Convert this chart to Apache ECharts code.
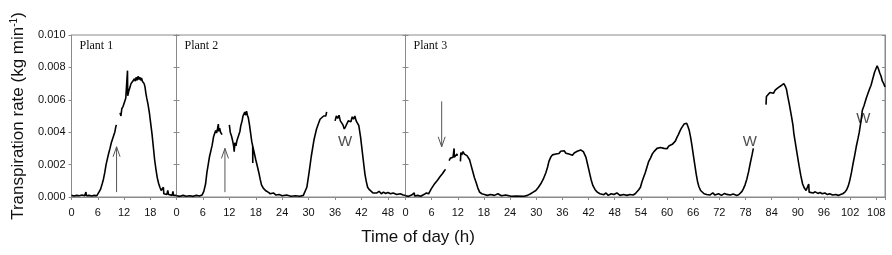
<!DOCTYPE html>
<html>
<head>
<meta charset="utf-8">
<script src="https://cdn.jsdelivr.net/npm/echarts@6/dist/echarts.min.js"></script>
<style>
  body { margin: 0; background: #fff; }
  #main { width: 892px; height: 255px; }
</style>
</head>
<body>
<div id="main"></div>
<script>
// hours of day vs transpiration rate (kg/min), null = gap in record
const plant1 = [
  [0, 0.00010], [0.6, 0.00006], [1.2, 0.00010], [1.8, 0.00008], [2.4, 0.00012], [3.0, 0.00008],
  [3.3, 0.00030], [3.4, 0.00008], [4.0, 0.00010], [4.6, 0.00006], [5.2, 0.00010], [5.8, 0.00008],
  [6.2, 0.00020], [6.6, 0.00045], [7.0, 0.00080], [7.3, 0.00110], [7.6, 0.00150], [7.9, 0.00200],
  [8.2, 0.00235], [8.5, 0.00270], [8.8, 0.00300], [9.1, 0.00335], [9.4, 0.00360], [9.7, 0.00385],
  [9.9, 0.00400], [10.1, 0.00430], [10.25, 0.00445], [10.7, null],
  [11.1, 0.00520], [11.3, 0.00500], [11.5, 0.00545], [11.8, 0.00560], [12.1, 0.00585], [12.4, 0.00610],
  [12.6, 0.00600], [12.8, 0.00780], [12.85, 0.00625], [13.1, 0.00655], [13.4, 0.00680], [13.6, 0.00700],
  [13.8, 0.00690], [14.0, 0.00715], [14.2, 0.00705], [14.4, 0.00730], [14.6, 0.00715], [14.8, 0.00740],
  [15.0, 0.00720], [15.2, 0.00745], [15.4, 0.00725], [15.6, 0.00740], [15.8, 0.00720], [16.0, 0.00735],
  [16.2, 0.00715], [16.4, 0.00725], [16.6, 0.00700], [16.8, 0.00680], [17.0, 0.00640], [17.2, 0.00610],
  [17.5, 0.00570], [17.8, 0.00520], [18.1, 0.00455], [18.4, 0.00390], [18.7, 0.00310], [19.0, 0.00230],
  [19.3, 0.00170], [19.6, 0.00120], [19.9, 0.00085], [20.2, 0.00060], [20.5, 0.00040], [20.8, 0.00030],
  [21.0, 0.00060], [21.1, 0.00020], [21.5, 0.00030], [21.8, 0.00015], [22.0, 0.00040], [22.2, 0.00015],
  [22.6, 0.00025], [23.0, 0.00010], [23.2, 0.00035], [23.3, 0.00010], [23.7, 0.00015], [24.0, 0.00010]
];

const plant2 = [
  [0, 0.00008], [0.8, 0.00004], [1.5, 0.00010], [2.2, 0.00005], [3.0, 0.00008], [3.8, 0.00004],
  [4.5, 0.00010], [5.2, 0.00006], [5.8, 0.00012], [6.2, 0.00035], [6.6, 0.00080], [6.9, 0.00150],
  [7.2, 0.00200], [7.5, 0.00250], [7.8, 0.00285], [8.1, 0.00320], [8.4, 0.00370], [8.7, 0.00395],
  [8.9, 0.00410], [9.1, 0.00395], [9.3, 0.00420], [9.5, 0.00450], [9.6, 0.00405], [9.8, 0.00425],
  [10.0, 0.00400], [10.2, 0.00410], [10.35, 0.00385], [11.0, null],
  [12.0, 0.00445], [12.2, 0.00400], [12.5, 0.00375], [12.8, 0.00340], [13.0, 0.00310], [13.1, 0.00280],
  [13.25, 0.00335], [13.5, 0.00315], [13.7, 0.00345], [13.9, 0.00335], [14.1, 0.00380], [14.4, 0.00405],
  [14.6, 0.00440], [14.9, 0.00470], [15.1, 0.00500], [15.3, 0.00490], [15.5, 0.00525], [15.7, 0.00505],
  [15.9, 0.00530], [16.1, 0.00505], [16.3, 0.00490], [16.6, 0.00440], [16.9, 0.00380], [17.1, 0.00340],
  [17.3, 0.00315], [17.32, 0.00210], [17.34, 0.00310], [17.6, 0.00280], [18.0, 0.00230], [18.4, 0.00185],
  [18.7, 0.00150], [19.0, 0.00110], [19.3, 0.00075], [19.7, 0.00055], [20.2, 0.00040], [20.8, 0.00030],
  [21.3, 0.00020], [22.0, 0.00025], [22.6, 0.00012], [23.3, 0.00015], [24.0, 0.00008], [25.0, 0.00012],
  [26.0, 0.00005], [27.0, 0.00008], [28.0, 0.00005], [28.8, 0.00010], [29.2, 0.00020], [29.6, 0.00060],
  [30.1, 0.00150], [30.6, 0.00250], [31.2, 0.00350], [31.8, 0.00420], [32.2, 0.00450], [32.6, 0.00480],
  [33.0, 0.00490], [33.4, 0.00500], [33.7, 0.00510], [33.9, 0.00500], [34.1, 0.00525], [35.0, null],
  [36.0, 0.00470], [36.3, 0.00500], [36.6, 0.00485], [36.9, 0.00505], [37.2, 0.00470], [37.5, 0.00460],
  [37.8, 0.00445], [38.1, 0.00420], [38.4, 0.00435], [38.7, 0.00445], [39.0, 0.00470], [39.3, 0.00480],
  [39.6, 0.00465], [39.9, 0.00495], [40.2, 0.00480], [40.5, 0.00500], [40.8, 0.00470], [41.1, 0.00465],
  [41.4, 0.00440], [41.8, 0.00370], [42.1, 0.00300], [42.4, 0.00230], [42.8, 0.00140], [43.1, 0.00095],
  [43.4, 0.00060], [43.8, 0.00045], [44.2, 0.00040], [44.6, 0.00025], [45.0, 0.00035], [45.5, 0.00025],
  [46.0, 0.00035], [46.5, 0.00020], [47.0, 0.00030], [47.5, 0.00022], [48.0, 0.00028], [48.6, 0.00020],
  [49.2, 0.00025], [50.0, 0.00015], [50.8, 0.00020], [51.5, 0.00012], [52.0, 0.00010]
];

const plant3 = [
  [0, 0.00008], [0.7, 0.00004], [1.4, 0.00012], [2.0, 0.00025], [2.1, 0.00006], [2.8, 0.00010],
  [3.5, 0.00005], [4.2, 0.00015], [4.8, 0.00025], [5.3, 0.00020], [5.6, 0.00035], [5.9, 0.00050],
  [6.3, 0.00060], [6.5, 0.00075], [6.7, 0.00080], [7.1, 0.00095], [7.3, 0.00090], [7.5, 0.00110],
  [7.9, 0.00125], [8.2, 0.00130], [8.5, 0.00145], [8.8, 0.00150], [9.0, 0.00165], [9.2, 0.00170], [9.6, null],
  [10.0, 0.00225], [10.3, 0.00240], [10.6, 0.00230], [10.9, 0.00245], [11.1, 0.00250], [11.15, 0.00300],
  [11.2, 0.00245], [11.5, 0.00255], [11.8, 0.00265], [11.9, 0.00255], [12.2, null],
  [12.6, 0.00220], [12.7, 0.00275], [12.9, 0.00260], [13.2, 0.00280], [13.5, 0.00265], [13.8, 0.00270],
  [14.1, 0.00255], [14.4, 0.00250], [14.7, 0.00230], [15.0, 0.00200], [15.4, 0.00160], [15.8, 0.00120],
  [16.2, 0.00090], [16.6, 0.00055], [17.0, 0.00030], [17.5, 0.00020], [18.1, 0.00016], [18.8, 0.00010],
  [19.5, 0.00015], [20.4, 0.00010], [21.2, 0.00020], [22.0, 0.00008], [23.0, 0.00012], [24.2, 0.00005],
  [25.5, 0.00006], [27.2, 0.00005], [28.0, 0.00010], [28.7, 0.00020], [29.3, 0.00030], [29.9, 0.00040],
  [30.5, 0.00060], [31.0, 0.00080], [31.6, 0.00110], [32.2, 0.00150], [32.6, 0.00185], [32.9, 0.00220],
  [33.3, 0.00245], [33.7, 0.00260], [34.1, 0.00270], [34.5, 0.00265], [34.8, 0.00275], [35.2, 0.00268],
  [35.6, 0.00282], [36.0, 0.00278], [36.4, 0.00285], [36.8, 0.00270], [37.1, 0.00275], [37.5, 0.00265],
  [37.9, 0.00270], [38.3, 0.00258], [38.7, 0.00272], [39.0, 0.00275], [39.4, 0.00282], [39.8, 0.00278],
  [40.2, 0.00290], [40.5, 0.00292], [40.8, 0.00280], [41.1, 0.00270], [41.4, 0.00245], [41.7, 0.00210],
  [42.0, 0.00175], [42.3, 0.00140], [42.6, 0.00105], [43.0, 0.00070], [43.5, 0.00045], [44.0, 0.00030],
  [44.6, 0.00020], [45.5, 0.00014], [46.0, 0.00025], [46.5, 0.00010], [47.2, 0.00020], [47.8, 0.00015],
  [48.5, 0.00025], [49.2, 0.00010], [50.0, 0.00015], [50.8, 0.00010], [51.5, 0.00015], [52.2, 0.00012],
  [52.7, 0.00020], [53.1, 0.00030], [53.5, 0.00045], [53.9, 0.00060], [54.2, 0.00090], [54.6, 0.00120],
  [55.0, 0.00150], [55.4, 0.00185], [55.8, 0.00220], [56.2, 0.00240], [56.6, 0.00265], [57.0, 0.00280],
  [57.3, 0.00292], [57.7, 0.00300], [58.1, 0.00310], [58.5, 0.00305], [58.9, 0.00315], [59.3, 0.00300],
  [59.6, 0.00305], [60.0, 0.00298], [60.4, 0.00315], [60.8, 0.00310], [61.2, 0.00325], [61.5, 0.00330],
  [61.9, 0.00345], [62.3, 0.00370], [62.6, 0.00385], [63.0, 0.00410], [63.3, 0.00425], [63.6, 0.00435],
  [63.9, 0.00450], [64.2, 0.00445], [64.5, 0.00455], [64.8, 0.00435], [65.1, 0.00410], [65.4, 0.00370],
  [65.7, 0.00320], [66.0, 0.00265], [66.3, 0.00210], [66.7, 0.00140], [67.0, 0.00095], [67.3, 0.00065],
  [67.7, 0.00040], [68.0, 0.00030], [68.5, 0.00020], [69.1, 0.00016], [69.8, 0.00012], [70.5, 0.00025],
  [71.0, 0.00012], [71.8, 0.00020], [72.5, 0.00010], [73.2, 0.00022], [73.7, 0.00016], [74.5, 0.00012],
  [75.2, 0.00018], [76.0, 0.00010], [76.5, 0.00015], [76.8, 0.00020], [77.2, 0.00035], [77.5, 0.00050],
  [77.9, 0.00075], [78.3, 0.00110], [78.7, 0.00155], [79.1, 0.00210], [79.5, 0.00260], [79.8, 0.00300],
  [81.0, null],
  [82.7, 0.00570], [82.8, 0.00620], [83.2, 0.00630], [83.6, 0.00645], [84.0, 0.00650], [84.4, 0.00640],
  [84.8, 0.00660], [85.2, 0.00655], [85.5, 0.00675], [85.9, 0.00670], [86.3, 0.00690], [86.6, 0.00680],
  [86.8, 0.00700], [87.1, 0.00685], [87.4, 0.00665], [87.7, 0.00620], [88.0, 0.00580], [88.3, 0.00535],
  [88.6, 0.00490], [88.9, 0.00440], [89.1, 0.00390], [89.4, 0.00340], [89.7, 0.00290], [90.0, 0.00240],
  [90.3, 0.00190], [90.7, 0.00130], [91.1, 0.00080], [91.5, 0.00055], [91.9, 0.00040], [92.3, 0.00035],
  [92.5, 0.00080], [92.6, 0.00030], [93.0, 0.00038], [93.5, 0.00025], [94.0, 0.00032], [94.6, 0.00022],
  [95.1, 0.00028], [95.6, 0.00020], [96.2, 0.00025], [96.8, 0.00015], [97.3, 0.00020], [98.0, 0.00012],
  [98.7, 0.00015], [99.3, 0.00010], [99.8, 0.00015], [100.3, 0.00020], [100.8, 0.00030], [101.2, 0.00045],
  [101.6, 0.00070], [101.9, 0.00100], [102.3, 0.00150], [102.7, 0.00210], [103.1, 0.00265], [103.4, 0.00310],
  [103.8, 0.00360], [104.1, 0.00400], [104.5, 0.00470], [104.8, 0.00535], [105.2, 0.00565], [105.7, 0.00610],
  [106.1, 0.00640], [106.5, 0.00670], [106.8, 0.00690], [107.0, 0.00710], [107.6, 0.00770], [107.9, 0.00790],
  [108.2, 0.00810], [108.5, 0.00790], [108.8, 0.00765], [109.1, 0.00745], [109.4, 0.00715], [109.7, 0.00700],
  [110.0, 0.00680]
];

const panelNames = ['Plant 1', 'Plant 2', 'Plant 3'];
const panelMax = [24, 52, 110];
const hourTicks = [
  [0, 6, 12, 18],
  [0, 6, 12, 18, 24, 30, 36, 42, 48],
  [0, 6, 12, 18, 24, 30, 36, 42, 48, 54, 60, 66, 72, 78, 84, 90, 96, 102, 108]
];
const rateTicks = [0, 0.002, 0.004, 0.006, 0.008, 0.010];

// "W" marks (panel, hour, rate) and arrows (panel, hour, tail rate, head rate)
const wMarks = [[1, 38.3, 0.0034], [2, 79.0, 0.0034], [2, 105.0, 0.0048]];
const arrows = [[0, 10.3, 0.0003, 0.0031], [1, 11.0, 0.0003, 0.0030], [2, 8.3, 0.0059, 0.0031]];

const gridLeft = [71.5, 176.5, 405.5];
const gridWidth = [105, 229, 479.5];
const axisGray = '#8a8a8a';
const textColor = '#111';

var myChart = echarts.init(document.getElementById('main'));

var grids = [], xAxes = [], yAxes = [], series = [];
[plant1, plant2, plant3].forEach(function (data, i) {
  grids.push({
    left: gridLeft[i], top: 35, width: gridWidth[i], height: 162,
    show: true, borderColor: axisGray, borderWidth: 1
  });
  xAxes.push({
    type: 'value', gridIndex: i, min: 0, max: panelMax[i], interval: 6,
    axisLine: {show: true, lineStyle: {color: axisGray}},
    axisTick: {show: true, length: 3, lineStyle: {color: axisGray}},
    splitLine: {show: false},
    axisLabel: {
      color: textColor, fontSize: 11, fontFamily: 'Liberation Sans', margin: 10,
      formatter: function (v) { return hourTicks[i].indexOf(v) >= 0 ? String(v) : ''; }
    }
  });
  yAxes.push({
    type: 'value', gridIndex: i, position: 'left', min: 0, max: 0.010, interval: 0.002,
    axisLine: {show: true, lineStyle: {color: axisGray}},
    axisTick: {show: true, inside: i > 0, length: 3, lineStyle: {color: axisGray}},
    splitLine: {show: false},
    axisLabel: {
      show: i === 0, color: textColor, fontSize: 11, fontFamily: 'Liberation Sans', margin: 6,
      formatter: function (v) { return rateTicks.indexOf(v) >= 0 || Math.abs(v - 0.01) < 1e-9 ? v.toFixed(3) : ''; }
    },
    name: i === 0 ? 'Transpiration rate (kg min{sup|-1})' : '',
    nameLocation: 'middle',
    nameGap: 45,
    nameTextStyle: {
      color: '#111', fontSize: 17, fontFamily: 'Liberation Sans',
      rich: {sup: {fontSize: 10, fontFamily: 'Liberation Sans', color: '#111', verticalAlign: 'top', lineHeight: 10}}
    }
  });
  yAxes.push({
    type: 'value', gridIndex: i, position: 'right', min: 0, max: 0.010, interval: 0.002,
    axisLine: {show: true, lineStyle: {color: axisGray}},
    axisTick: {show: true, inside: true, length: 3, lineStyle: {color: axisGray}},
    axisLabel: {show: false},
    splitLine: {show: false}
  });
  series.push({
    type: 'line', xAxisIndex: i, yAxisIndex: i * 2,
    data: data, showSymbol: false, connectNulls: false,
    lineStyle: {color: '#000', width: 1.6},
    itemStyle: {color: '#000'}
  });
});

[0, 1, 2].forEach(function (i) {
  var marks = wMarks.filter(function (m) { return m[0] === i; });
  if (!marks.length) return;
  series.push({
    type: 'scatter', xAxisIndex: i, yAxisIndex: i * 2,
    data: marks.map(function (m) { return [m[1], m[2]]; }),
    symbolSize: 1, itemStyle: {color: 'rgba(0,0,0,0)'},
    label: {show: true, position: 'inside', formatter: 'W', fontSize: 15, fontFamily: 'Liberation Sans', color: '#222'}
  });
});

myChart.setOption({
  animation: false,
  backgroundColor: '#fff',
  grid: grids,
  xAxis: xAxes,
  yAxis: yAxes,
  series: series
});

// panel names, x-axis title and arrows
var graphics = panelNames.map(function (name, i) {
  return {
    type: 'text', x: gridLeft[i] + 8, y: 40,
    style: {text: name, fontSize: 12, fontFamily: 'Liberation Serif', fill: '#111'}
  };
});
graphics.push({
  type: 'text', x: 418, y: 229,
  style: {text: 'Time of day (h)', fontSize: 17, fontFamily: 'Liberation Sans', fill: '#111', align: 'center'}
});
arrows.forEach(function (a) {
  var tail = myChart.convertToPixel({seriesIndex: a[0]}, [a[1], a[2]]);
  var head = myChart.convertToPixel({seriesIndex: a[0]}, [a[1], a[3]]);
  var dir = head[1] > tail[1] ? -1 : 1;
  graphics.push({type: 'line', shape: {x1: tail[0], y1: tail[1], x2: head[0], y2: head[1]}, style: {stroke: '#555', lineWidth: 1}});
  graphics.push({type: 'polyline', shape: {points: [[head[0] - 3.5, head[1] + dir * 10], [head[0], head[1]], [head[0] + 3.5, head[1] + dir * 10]]}, style: {stroke: '#555', lineWidth: 1, fill: null}});
});
myChart.setOption({graphic: graphics});
</script>
</body>
</html>
